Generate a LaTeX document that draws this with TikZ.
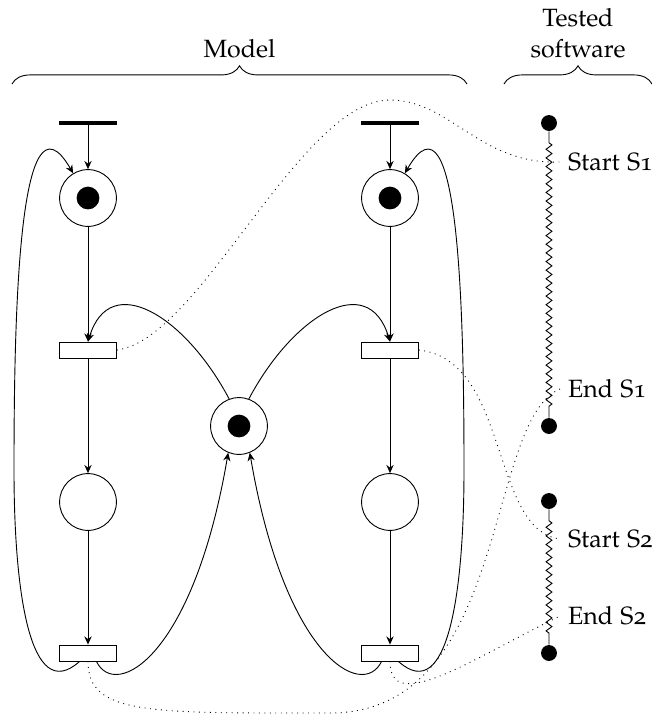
\documentclass[tikz,border=0pt]{standalone}
\usepackage[T1]{fontenc}
\usepackage[osf]{mathpazo}
\usetikzlibrary{arrows.meta, decorations.pathmorphing, decorations.pathreplacing}

\tikzset{
  place/.style={circle, draw, fill=white, minimum size=25pt, inner sep=0pt},
  token/.style={circle, fill=black, minimum size=10pt, inner sep=0pt},
  transition/.style={rectangle, draw, fill=white, minimum width=25pt, minimum height=7pt, inner sep=0pt},
  sourcebar/.style={rectangle, fill=black, minimum width=25.5pt, minimum height=1.4pt, inner sep=0pt},
  swdot/.style={circle, fill=black, minimum size=7pt, inner sep=0pt},
  pnarc/.style={-{Stealth[length=3.6pt,width=3.2pt]}},
  mapline/.style={dotted},
  execline/.style={decorate, decoration={zigzag, segment length=3.8pt, amplitude=1.3pt, pre length=5pt, post length=5pt}},
  groupbrace/.style={decorate, decoration={brace, amplitude=8pt}},
}

\begin{document}
\begin{tikzpicture}[x=0.44pt, y=0.44pt, font=\fontsize{11}{13.6}\selectfont]
\useasboundingbox (0,0) rectangle (652,-715);

% model, left process
\node[sourcebar] (bL) at (88,-123) {};
\node[place] (pL1) at (88,-198) {};
\node[token] (kL1) at (pL1) {};
\node[transition] (tL1) at (88,-350) {};
\node[place] (pL2) at (88,-502) {};
\node[transition] (tL2) at (88,-653) {};

% model, right process
\node[sourcebar] (bR) at (390,-123) {};
\node[place] (pR1) at (390,-198) {};
\node[token] (kR1) at (pR1) {};
\node[transition] (tR1) at (390,-350) {};
\node[place] (pR2) at (390,-502) {};
\node[transition] (tR2) at (390,-653) {};

% shared place
\node[place] (pM) at (239,-426) {};
\node[token] (kM) at (pM) {};

\draw[pnarc] (bL) -- (pL1);
\draw[pnarc] (pL1) -- (tL1);
\draw[pnarc] (tL1) -- (pL2);
\draw[pnarc] (pL2) -- (tL2);
\draw[pnarc] (bR) -- (pR1);
\draw[pnarc] (pR1) -- (tR1);
\draw[pnarc] (tR1) -- (pR2);
\draw[pnarc] (pR2) -- (tR2);

% back to the start
\draw[pnarc] (tL2.-135) .. controls +(-50,-45) and +(0,-120) .. (14,-470) .. controls +(0,150) and +(-55,95) .. (pL1.121);
\draw[pnarc] (tR2.-45) .. controls +(50,-45) and +(0,-120) .. (464,-470) .. controls +(0,150) and +(55,95) .. (pR1.59);

% mutex
\draw[pnarc] (pM.110) .. controls +(-44,83) and +(22,72) .. (tL1.north);
\draw[pnarc] (pM.70) .. controls +(44,83) and +(-22,72) .. (tR1.north);
\draw[pnarc] (tL2.-45) .. controls +(19,-39) and +(-35,-205) .. (pM.-112);
\draw[pnarc] (tR2.-135) .. controls +(-19,-39) and +(35,-205) .. (pM.-68);

% tested software
\node[swdot] (s1a) at (549,-123) {};
\node[swdot] (s1b) at (549,-426) {};
\node[swdot] (s2a) at (549,-501) {};
\node[swdot] (s2b) at (549,-653) {};
\draw[execline] (s1a) -- (s1b);
\draw[execline] (s2a) -- (s2b);
\node[anchor=west] (startS1) at (560,-162) {Start S1};
\node[anchor=west] (endS1) at (560,-389) {End S1};
\node[anchor=west] (startS2) at (560,-539) {Start S2};
\node[anchor=west] (endS2) at (560,-616) {End S2};

\draw[mapline] (tL1.east) .. controls +(83,10) and +(-90,0) .. (390,-100) .. controls +(60,0) and +(-80,-3) .. (startS1.west);
\draw[mapline] (tR1.east) .. controls +(91,-10) and +(-70,9) .. (startS2.west);
\draw[mapline] (tL2.south) .. controls +(0,-54) and +(-180,0) .. (330,-713) .. controls +(180,0) and +(-75,-31) .. (endS1.west);
\draw[mapline] (tR2.south) .. controls +(0,-54) and +(-90,-44) .. (endS2.west);

\draw[groupbrace] (12,-84) -- (467,-84) node[midway, above=8pt] (model) {Model};
\draw[groupbrace] (504,-84) -- (652,-84) node[midway, above=8pt, align=center] (tested) {Tested\\software};
\end{tikzpicture}
\end{document}
